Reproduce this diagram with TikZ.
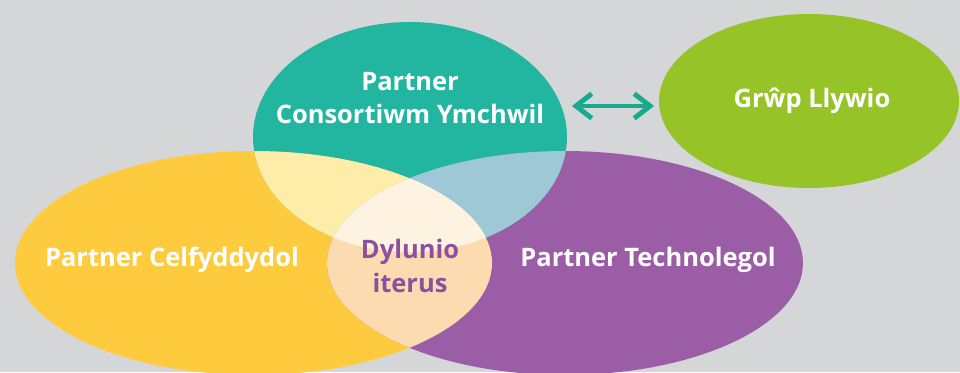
\documentclass[tikz,border=0pt]{standalone}
\usepackage{fontspec}
\setmainfont{Open Sans}
\usepackage{tikz}
\usetikzlibrary{shapes,arrows,arrows.meta}
\definecolor{bggray}{HTML}{D5D6D7}
\definecolor{resteal}{HTML}{22B59F}
\definecolor{celfyellow}{HTML}{FECB3E}
\definecolor{techpurple}{HTML}{9B5DA6}
\definecolor{llywgreen}{HTML}{96C428}
\definecolor{paleyellow}{HTML}{FEECA9}
\definecolor{paleblue}{HTML}{9FC8D7}
\definecolor{palepeach}{HTML}{FDDBB1}
\definecolor{palecream}{HTML}{FEF3E1}
\definecolor{arrowteal}{HTML}{18A98F}
\definecolor{iterpurple}{HTML}{8D4F9F}
\tikzstyle{venn} = [ellipse, inner sep=0pt, outer sep=0pt]
\tikzstyle{vtext} = [text=white, font=\bfseries\fontsize{14.5}{19}\selectfont, align=center]
\tikzstyle{line} = [draw=arrowteal, line width=2.8pt, shorten <=0.1cm, shorten >=0.1cm,
    {Straight Barb[length=9pt,width=14pt]}-{Straight Barb[length=9pt,width=14pt]}]
\tikzset{
  celf path/.style={insert path={(253.5,263) ellipse [x radius=238.5, y radius=112]}},
  tech path/.style={insert path={(565,263) ellipse [x radius=238, y radius=112]}},
  consort path/.style={insert path={(410,137) ellipse [x radius=157, y radius=115]}}
}
\begin{document}
\begin{tikzpicture}[x=0.02cm, y=-0.02cm]
    \fill[bggray] (0,0) rectangle (960,372);
    \useasboundingbox (0,0) rectangle (960,372);
        % Nodes
    \node [venn, fill=celfyellow, minimum width=9.54cm, minimum height=4.48cm] (celf) at (253.5,263) {};
    \node [venn, fill=techpurple, minimum width=9.52cm, minimum height=4.48cm] (tech) at (565,263) {};
    \node [venn, fill=resteal, minimum width=6.28cm, minimum height=4.6cm] (consort) at (410,137) {};
    \node [venn, fill=llywgreen, minimum width=6cm, minimum height=3.48cm] (llywio) at (809,101) {};
        % Overlaps
    \begin{scope}
        \clip [celf path];
        \fill [paleyellow, consort path];
    \end{scope}
    \begin{scope}
        \clip [tech path];
        \fill [paleblue, consort path];
    \end{scope}
    \begin{scope}
        \clip [celf path];
        \fill [palepeach, tech path];
        \clip [tech path];
        \fill [palecream, consort path];
    \end{scope}
        % Texts
    \node [vtext] (celftext) at (172,260) {Partner Celfyddydol};
    \node [vtext] (techtext) at (648,260) {Partner Technolegol};
    \node [vtext] (consorttext) at (410,98) {Partner\\Consortiwm Ymchwil};
    \node [vtext, text=iterpurple] (itertext) at (410,266) {Dylunio\\iterus};
    \node [vtext] (llywiotext) at (812,101) {Grŵp Llywio};
        % Edges
    \path [line] ([yshift=-0.1cm]consort.east |- llywio.west) -- ([yshift=-0.1cm]llywio.west);
\end{tikzpicture}
\end{document}
